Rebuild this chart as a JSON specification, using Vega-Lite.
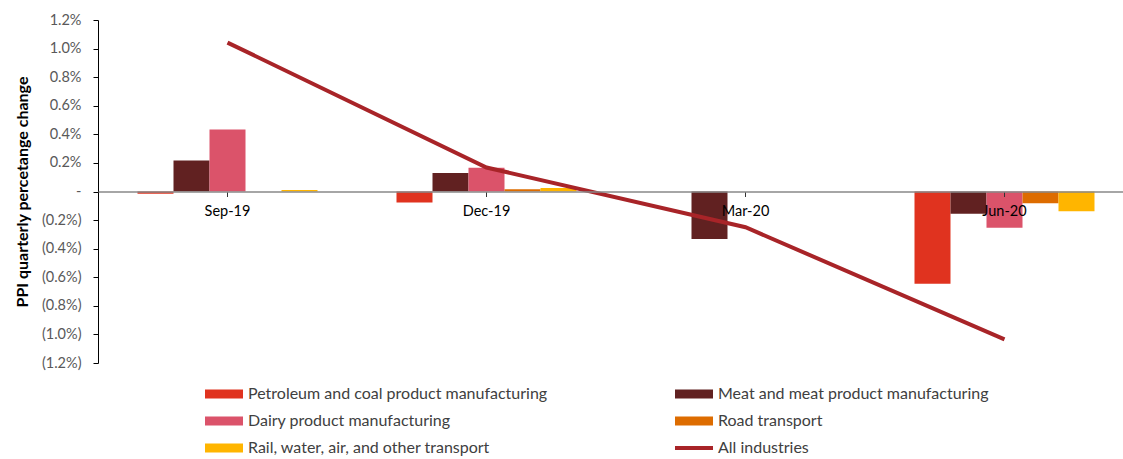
{
  "$schema": "https://vega.github.io/schema/vega-lite/v6.json",
  "autosize": "none",
  "width": 1025,
  "height": 343,
  "padding": {"left": 98, "top": 20, "right": 0, "bottom": 96},
  "background": "white",
  "config": {"view": {"stroke": null}, "font": "Lato"},
  "data": {"values": [
    {"quarter": "Sep-19", "series": "Petroleum and coal product manufacturing", "value": -0.015},
    {"quarter": "Sep-19", "series": "Meat and meat product manufacturing", "value": 0.217},
    {"quarter": "Sep-19", "series": "Dairy product manufacturing", "value": 0.434},
    {"quarter": "Sep-19", "series": "Road transport", "value": 0.0},
    {"quarter": "Sep-19", "series": "Rail, water, air, and other transport", "value": 0.01},
    {"quarter": "Sep-19", "series": "All industries", "value": 1.042},
    {"quarter": "Dec-19", "series": "Petroleum and coal product manufacturing", "value": -0.077},
    {"quarter": "Dec-19", "series": "Meat and meat product manufacturing", "value": 0.129},
    {"quarter": "Dec-19", "series": "Dairy product manufacturing", "value": 0.166},
    {"quarter": "Dec-19", "series": "Road transport", "value": 0.016},
    {"quarter": "Dec-19", "series": "Rail, water, air, and other transport", "value": 0.024},
    {"quarter": "Dec-19", "series": "All industries", "value": 0.168},
    {"quarter": "Mar-20", "series": "Petroleum and coal product manufacturing", "value": 0.0},
    {"quarter": "Mar-20", "series": "Meat and meat product manufacturing", "value": -0.333},
    {"quarter": "Mar-20", "series": "Dairy product manufacturing", "value": 0.0},
    {"quarter": "Mar-20", "series": "Road transport", "value": 0.0},
    {"quarter": "Mar-20", "series": "Rail, water, air, and other transport", "value": 0.0},
    {"quarter": "Mar-20", "series": "All industries", "value": -0.25},
    {"quarter": "Jun-20", "series": "Petroleum and coal product manufacturing", "value": -0.645},
    {"quarter": "Jun-20", "series": "Meat and meat product manufacturing", "value": -0.156},
    {"quarter": "Jun-20", "series": "Dairy product manufacturing", "value": -0.254},
    {"quarter": "Jun-20", "series": "Road transport", "value": -0.082},
    {"quarter": "Jun-20", "series": "Rail, water, air, and other transport", "value": -0.138},
    {"quarter": "Jun-20", "series": "All industries", "value": -1.035}
  ]},
  "encoding": {
    "x": {
      "field": "quarter", "type": "nominal",
      "sort": ["Sep-19", "Dec-19", "Mar-20", "Jun-20"],
      "scale": {"range": [0, 1036], "paddingInner": 0.305, "paddingOuter": 0.1525},
      "axis": {
        "title": null, "labelAngle": 0, "offset": -171.5, "zindex": 1,
        "domainColor": "#898989", "domainWidth": 1.5, "tickColor": "#333333", "tickSize": 5,
        "labelFontSize": 14.5, "labelColor": "#000000", "labelPadding": 8, "labelFont": "Lato"
      }
    },
    "y": {
      "field": "value", "type": "quantitative",
      "scale": {"domain": [-1.2, 1.2], "nice": false, "zero": false},
      "axis": {
        "title": "PPI quarterly percetange change",
        "titleFontSize": 16, "titleFontWeight": "bold", "titleColor": "#000000", "titleFont": "Lato",
        "titlePadding": 11,
        "values": [-1.2, -1.0, -0.8, -0.6, -0.4, -0.2, 0, 0.2, 0.4, 0.6, 0.8, 1.0, 1.2],
        "labelExpr": "abs(datum.value) < 1e-9 ? '-' : datum.value < 0 ? '(' + format(-datum.value, '.1f') + '%)' : format(datum.value, '.1f') + '%'",
        "labelFontSize": 14.5, "labelColor": "#595959", "labelPadding": 12,
        "domainColor": "#000000", "tickColor": "#000000", "tickSize": 5, "grid": false
      }
    },
    "color": {
      "field": "series", "type": "nominal",
      "scale": {
        "domain": ["Petroleum and coal product manufacturing", "Meat and meat product manufacturing", "Dairy product manufacturing", "Road transport", "Rail, water, air, and other transport", "All industries"],
        "range": ["#E0331F", "#612121", "#DB536A", "#DD6C00", "#FFB500", "#A82428"]
      },
      "legend": {
        "title": null, "orient": "none", "legendX": 107, "legendY": 355,
        "direction": "horizontal", "columns": 2, "columnPadding": 127, "rowPadding": -6.5,
        "labelFontSize": 16, "labelColor": "#404040", "labelFont": "Lato", "labelOffset": 5, "labelLimit": 0,
        "symbolSize": 1444, "symbolStrokeWidth": 0,
        "encode": {"symbols": {"update": {
          "shape": {"signal": "datum.value === 'All industries' ? 'M-1,-0.1h2v0.2h-2Z' : 'M-1,-0.24h2v0.48h-2Z'"},
          "fill": {"scale": "color", "field": "value"},
          "strokeWidth": {"value": 0},
          "opacity": {"value": 1}
        }}}
      }
    }
  },
  "layer": [
    {
      "transform": [{"filter": "datum.series !== 'All industries'"}],
      "mark": {"type": "bar"},
      "encoding": {
        "xOffset": {
          "field": "series", "type": "nominal",
          "sort": ["Petroleum and coal product manufacturing", "Meat and meat product manufacturing", "Dairy product manufacturing", "Road transport", "Rail, water, air, and other transport"],
          "scale": {"paddingInner": 0, "paddingOuter": 0}
        }
      }
    },
    {
      "transform": [{"filter": "datum.series === 'All industries'"}],
      "mark": {"type": "line", "strokeWidth": 4},
      "encoding": {}
    }
  ]
}
